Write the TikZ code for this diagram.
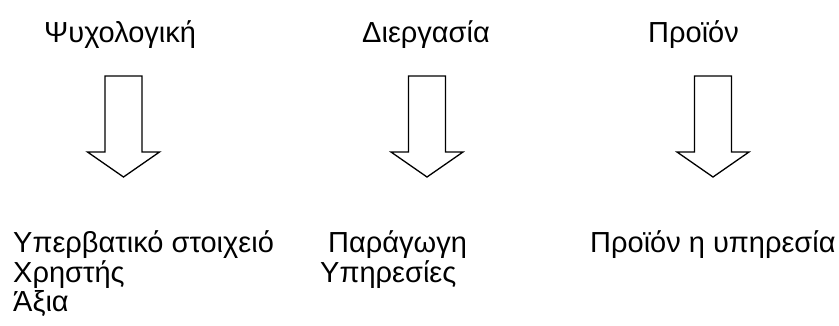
\documentclass[tikz,border=0pt]{standalone}
\usepackage{fontspec}
\setmainfont{Liberation Sans}
\tikzset{
  lbl/.style={anchor=base west, inner sep=0pt, font=\fontsize{29}{28.5}\selectfont},
  blockarrow/.style={draw=black, line width=1.3pt, fill=white, line join=miter}
}
\newcommand{\lines}[1]{\begin{tabular}[t]{@{}l@{}}#1\end{tabular}}
\newcommand{\downblock}[1]{%
  \draw[blockarrow] (#1-18.5,76) -- (#1+18.5,76) -- (#1+18.5,152) -- (#1+36,152)
    -- (#1,177) -- (#1-36,152) -- (#1-18.5,152) -- cycle;}
\begin{document}
\begin{tikzpicture}[x=1pt,y=-1pt]
\useasboundingbox[fill=white] (0,0) rectangle (839,325);
\node[lbl] (t1) at (44,42) {Ψυχολογική};
\node[lbl] (t2) at (362,42) {Διεργασία};
\node[lbl] (t3) at (648,42) {Προϊόν};
\downblock{123.5}
\downblock{427}
\downblock{713}
\node[lbl] (b1) at (13,252) {\lines{Υπερβατικό στοιχειό\\Χρηστής\\Άξια}};
\node[lbl] (b2) at (320,252) {\lines{\hspace*{8pt}Παράγωγη\\Υπηρεσίες}};
\node[lbl] (b3) at (590,252) {Προϊόν η υπηρεσία};
\end{tikzpicture}
\end{document}
